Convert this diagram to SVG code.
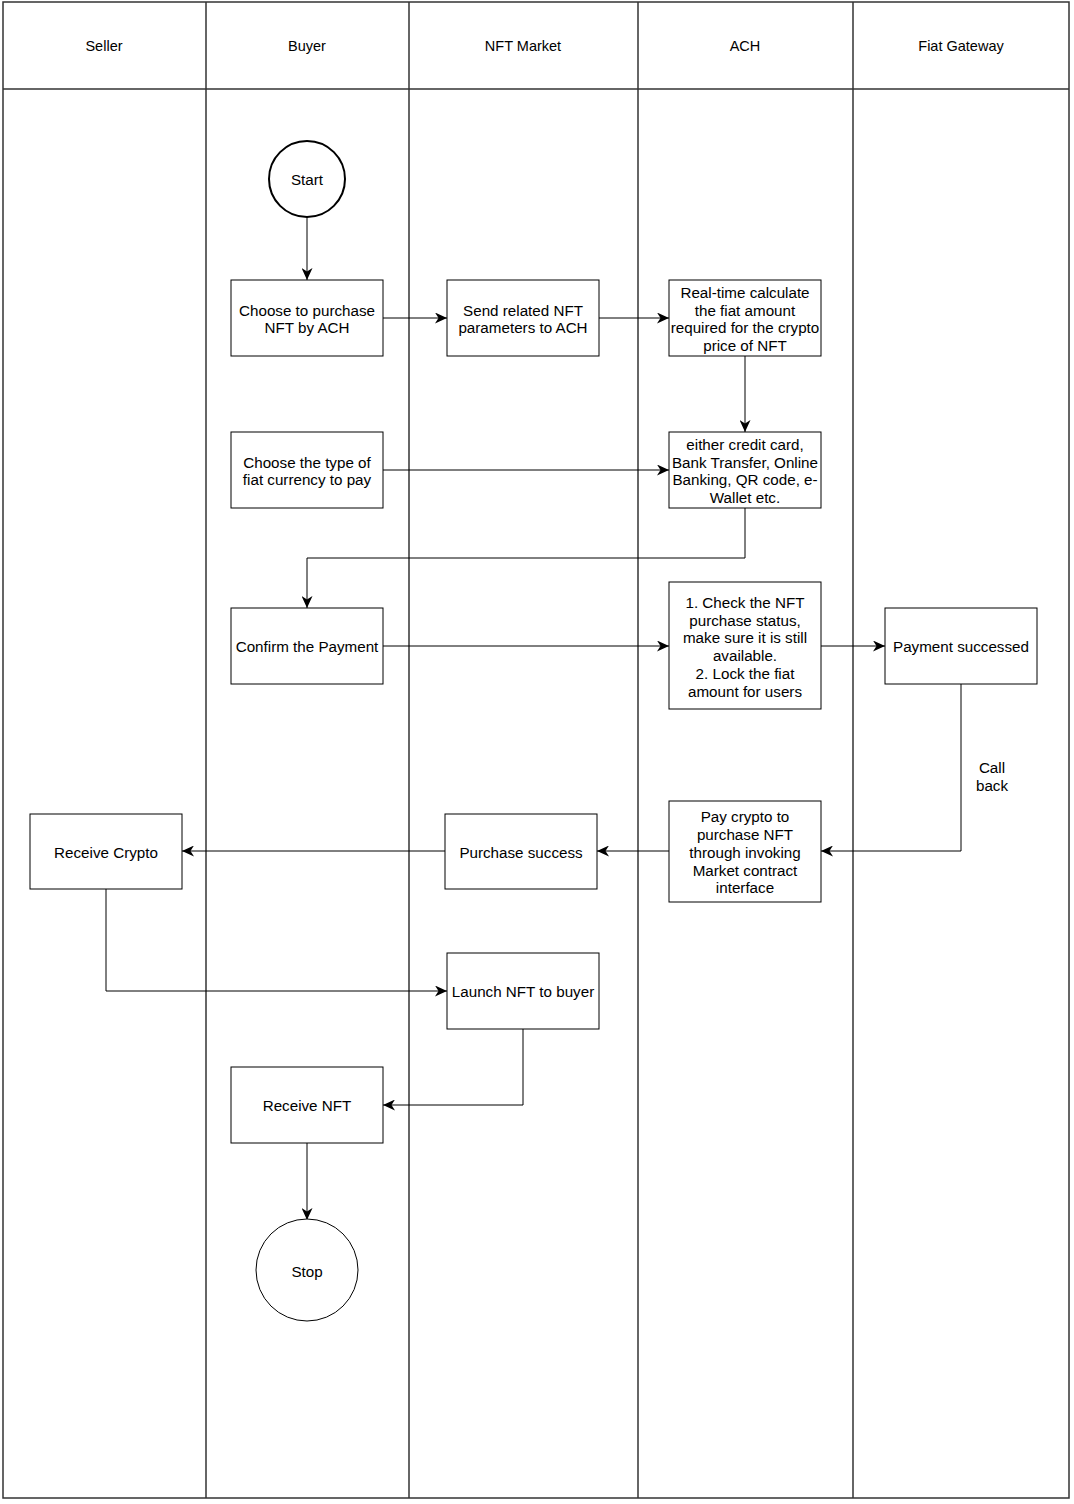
<svg xmlns="http://www.w3.org/2000/svg" width="1074" height="1504" viewBox="0 0 1074 1504">
<style>
text{font-family:"Liberation Sans",Arial,Helvetica,sans-serif;font-size:15.2px;fill:#000;text-anchor:middle;dominant-baseline:central}
text.hd{font-size:14.5px}
.lane{fill:none;stroke:#333;stroke-width:1.5}
.box{fill:#fff;stroke:#000;stroke-width:1}
.edge{fill:none;stroke:#000;stroke-width:1}
</style>
<defs>
<marker id="arr" markerUnits="userSpaceOnUse" markerWidth="13" markerHeight="11" viewBox="0 0 13 11" refX="12" refY="5.5" orient="auto">
<path d="M0,0 L12,5.5 L0,11 L3.5,5.5 Z" fill="#000"/>
</marker>
</defs>
<rect width="1074" height="1504" fill="#fff"/>
<g id="lanes">
<rect class="lane" x="3" y="2" width="1066" height="1496"/>
<line class="lane" x1="3" y1="89" x2="1069" y2="89"/>
<line class="lane" x1="206" y1="2" x2="206" y2="1498"/>
<line class="lane" x1="409" y1="2" x2="409" y2="1498"/>
<line class="lane" x1="638" y1="2" x2="638" y2="1498"/>
<line class="lane" x1="853" y1="2" x2="853" y2="1498"/>
<text class="hd" x="104" y="46">Seller</text>
<text class="hd" x="307" y="46">Buyer</text>
<text class="hd" x="523" y="46">NFT Market</text>
<text class="hd" x="745" y="46">ACH</text>
<text class="hd" x="961" y="46">Fiat Gateway</text>
</g>
<g id="connectors">
<path class="edge" d="M307,217 L307,280" marker-end="url(#arr)"/>
<path class="edge" d="M383,318 L447,318" marker-end="url(#arr)"/>
<path class="edge" d="M599,318 L669,318" marker-end="url(#arr)"/>
<path class="edge" d="M745,356 L745,432" marker-end="url(#arr)"/>
<path class="edge" d="M383,470 L669,470" marker-end="url(#arr)"/>
<path class="edge" d="M745,508 L745,558 L307,558 L307,608" marker-end="url(#arr)"/>
<path class="edge" d="M383,646 L669,646" marker-end="url(#arr)"/>
<path class="edge" d="M821,646 L885,646" marker-end="url(#arr)"/>
<path class="edge" d="M961,684 L961,851 L821,851" marker-end="url(#arr)"/>
<text x="992" y="767">Call</text>
<text x="992" y="785">back</text>
<path class="edge" d="M669,851 L597,851" marker-end="url(#arr)"/>
<path class="edge" d="M445,851 L182,851" marker-end="url(#arr)"/>
<path class="edge" d="M106,889 L106,991 L447,991" marker-end="url(#arr)"/>
<path class="edge" d="M523,1029 L523,1105 L383,1105" marker-end="url(#arr)"/>
<path class="edge" d="M307,1143 L307,1220" marker-end="url(#arr)"/>
</g>
<g id="start"><circle cx="307" cy="179" r="38" fill="#fff" stroke="#000" stroke-width="2"/><text x="307" y="179">Start</text></g>
<g id="choose-ach"><rect class="box" x="231" y="280" width="152" height="76"/><text x="307" y="310">Choose to purchase</text><text x="307" y="327">NFT by ACH</text></g>
<g id="send-params"><rect class="box" x="447" y="280" width="152" height="76"/><text x="523" y="310">Send related NFT</text><text x="523" y="327">parameters to ACH</text></g>
<g id="realtime"><rect class="box" x="669" y="280" width="152" height="76"/><text x="745" y="292">Real-time calculate</text><text x="745" y="310">the fiat amount</text><text x="745" y="327">required for the crypto</text><text x="745" y="345">price of NFT</text></g>
<g id="choose-fiat"><rect class="box" x="231" y="432" width="152" height="76"/><text x="307" y="462">Choose the type of</text><text x="307" y="479">fiat currency to pay</text></g>
<g id="methods"><rect class="box" x="669" y="432" width="152" height="76"/><text x="745" y="444">either credit card,</text><text x="745" y="462">Bank Transfer, Online</text><text x="745" y="479">Banking, QR code, e-</text><text x="745" y="497">Wallet etc.</text></g>
<g id="confirm"><rect class="box" x="231" y="608" width="152" height="76"/><text x="307" y="646">Confirm the Payment</text></g>
<g id="check"><rect class="box" x="669" y="582" width="152" height="127"/><text x="745" y="602">1. Check the NFT</text><text x="745" y="620">purchase status,</text><text x="745" y="637">make sure it is still</text><text x="745" y="655">available.</text><text x="745" y="673">2. Lock the fiat</text><text x="745" y="691">amount for users</text></g>
<g id="payment-ok"><rect class="box" x="885" y="608" width="152" height="76"/><text x="961" y="646">Payment successed</text></g>
<g id="pay-crypto"><rect class="box" x="669" y="801" width="152" height="101"/><text x="745" y="816">Pay crypto to</text><text x="745" y="834">purchase NFT</text><text x="745" y="852">through invoking</text><text x="745" y="870">Market contract</text><text x="745" y="887">interface</text></g>
<g id="purchase-success"><rect class="box" x="445" y="814" width="152" height="75"/><text x="521" y="852">Purchase success</text></g>
<g id="receive-crypto"><rect class="box" x="30" y="814" width="152" height="75"/><text x="106" y="852">Receive Crypto</text></g>
<g id="launch"><rect class="box" x="447" y="953" width="152" height="76"/><text x="523" y="991">Launch NFT to buyer</text></g>
<g id="receive-nft"><rect class="box" x="231" y="1067" width="152" height="76"/><text x="307" y="1105">Receive NFT</text></g>
<g id="stop"><circle cx="307" cy="1270" r="51" fill="#fff" stroke="#000" stroke-width="1"/><text x="307" y="1271">Stop</text></g>
</svg>
